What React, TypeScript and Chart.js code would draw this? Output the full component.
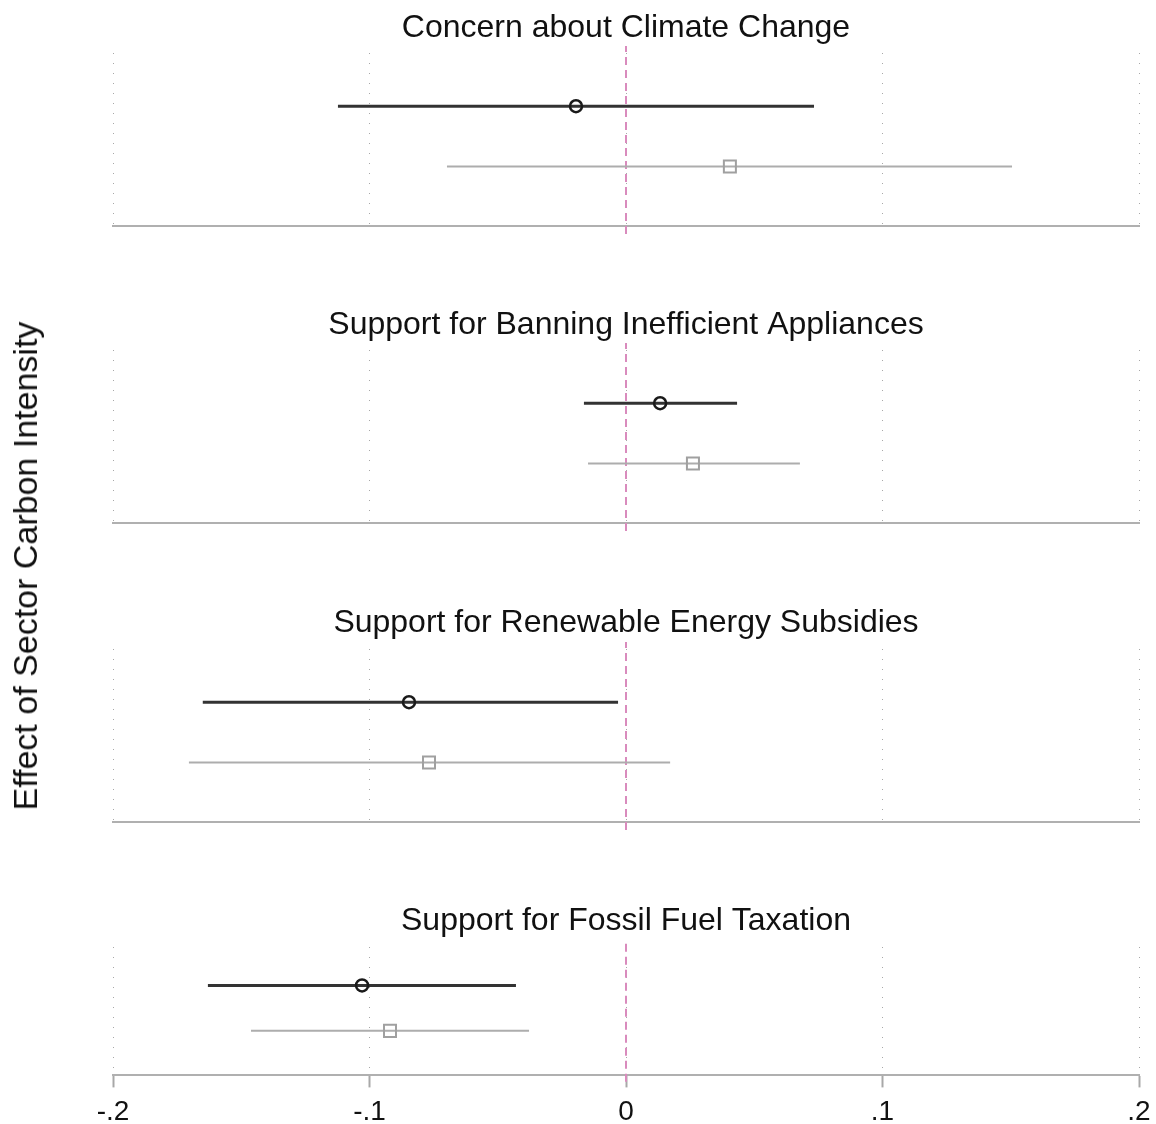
import React, { useEffect, useRef } from 'react';
import { Chart, registerables } from 'chart.js';

Chart.register(...registerables);

// ---------- data ----------
const panelTitles = [
  'Concern about Climate Change',
  'Support for Banning Inefficient Appliances',
  'Support for Renewable Energy Subsidies',
  'Support for Fossil Fuel Taxation',
];
const darkEst = [-0.0195, 0.0133, -0.0846, -0.1029];
const darkLo = [-0.1123, -0.0164, -0.1650, -0.1630];
const darkHi = [0.0733, 0.0433, -0.0031, -0.0429];
const grayEst = [0.0405, 0.0261, -0.0768, -0.0920];
const grayLo = [-0.0698, -0.0148, -0.1704, -0.1462];
const grayHi = [0.1505, 0.0678, 0.0172, -0.0378];
const tickValues = [-0.2, -0.1, 0, 0.1, 0.2];
const tickLabels = ['-.2', '-.1', '0', '.1', '.2'];
const rowDark = 2;
const rowGray = 1;
const yMin = 0.02;
const yMax = 3;
const refX = 0;
const refYLow = -0.12;
const yAxisTitle = 'Effect of Sector Carbon Intensity';

// ---------- layout / style ----------
const FONT = "'Liberation Sans', Arial, sans-serif";
const W = 1156;
const H = 1124;
const CANVAS_W = 1176;
const PLOT_LEFT = 113;
const PLOT_RIGHT = 1139;
const panelBottoms = [226, 523, 822, 1075];
const panelHeights = [180, 180, 180, 135];
const titleCenters = [25, 322, 620, 918];
const TITLE_SIZE = 32;
const TICK_SIZE = 28;
const TICK_LEN = 12;
const TICK_PAD = 8;

function Panel({ idx }: { idx: number }) {
  const ref = useRef<HTMLCanvasElement>(null);
  const isLast = idx === panelTitles.length - 1;
  const areaBottom = panelBottoms[idx];
  const areaTop = areaBottom - panelHeights[idx];
  const titleLH = TITLE_SIZE * 1.0;
  const top = Math.round(titleCenters[idx] + 3 - titleLH / 2);
  const titlePadBottom = Math.max(0, areaTop - top - titleLH);
  let height: number;
  let padBottom: number;
  if (isLast) {
    const axisH = TICK_LEN + TICK_SIZE * 1.2 + TICK_PAD;
    height = Math.round(areaBottom + axisH + 8 - top);
    padBottom = 0;
  } else {
    padBottom = 10;
    height = areaBottom + padBottom - top;
  }

  useEffect(() => {
    const canvas = ref.current;
    if (!canvas) return;
    const chart = new Chart(canvas, {
      type: 'line',
      data: {
        datasets: [
          {
            type: 'scatter',
            data: [{ x: darkEst[idx], y: rowDark }],
            pointStyle: 'circle',
            pointRadius: 6,
            pointBorderWidth: 2.5,
            pointBorderColor: '#1a1a1a',
            pointBackgroundColor: 'rgba(0,0,0,0)',
            borderColor: '#1a1a1a',
            backgroundColor: 'rgba(0,0,0,0)',
            showLine: false,
          } as any,
          {
            type: 'scatter',
            data: [{ x: grayEst[idx], y: rowGray }],
            pointStyle: 'rect',
            pointRadius: 8.5,
            pointBorderWidth: 2,
            pointBorderColor: '#a0a0a0',
            pointBackgroundColor: 'rgba(0,0,0,0)',
            borderColor: '#a0a0a0',
            backgroundColor: 'rgba(0,0,0,0)',
            showLine: false,
          } as any,
          {
            type: 'line',
            data: [
              { x: darkLo[idx], y: rowDark },
              { x: darkHi[idx], y: rowDark },
            ],
            borderColor: '#333333',
            borderWidth: 3,
            pointRadius: 0,
            fill: false,
          },
          {
            type: 'line',
            data: [
              { x: grayLo[idx], y: rowGray },
              { x: grayHi[idx], y: rowGray },
            ],
            borderColor: '#adadad',
            borderWidth: 2,
            pointRadius: 0,
            fill: false,
          },
          {
            type: 'line',
            data: [
              { x: refX, y: refYLow },
              { x: refX, y: yMax },
            ],
            borderColor: '#d98bbd',
            borderWidth: 2,
            borderDash: [8, 5],
            pointRadius: 0,
            fill: false,
            clip: false,
          } as any,
        ],
      },
      options: {
        animation: false,
        responsive: false,
        devicePixelRatio: 1,
        events: [],
        layout: {
          padding: { left: PLOT_LEFT, right: CANVAS_W - PLOT_RIGHT, top: 0, bottom: padBottom },
        },
        plugins: {
          legend: { display: false },
          tooltip: { enabled: false },
          title: {
            display: true,
            text: panelTitles[idx],
            fullSize: false,
            color: '#111111',
            font: { family: FONT, size: TITLE_SIZE, weight: 'normal', lineHeight: 1.0 },
            padding: { top: 0, bottom: titlePadBottom },
          },
        },
        scales: {
          x: {
            type: 'linear',
            min: tickValues[0],
            max: tickValues[tickValues.length - 1],
            afterBuildTicks: (axis: any) => {
              axis.ticks = tickValues.map((v) => ({ value: v }));
            },
            grid: {
              display: true,
              color: '#a8a8a8',
              lineWidth: 1,
              drawOnChartArea: true,
              drawTicks: isLast,
              tickLength: TICK_LEN,
              tickColor: '#a8a8a8',
              tickWidth: 2,
              tickBorderDash: [],
            } as any,
            border: { display: true, color: '#b0b0b0', width: 2, dash: [1, 9], dashOffset: -7 },
            ticks: {
              display: isLast,
              autoSkip: false,
              maxRotation: 0,
              padding: TICK_PAD,
              color: '#111111',
              font: { family: FONT, size: TICK_SIZE },
              callback: (_v: any, i: number) => tickLabels[i],
            },
          },
          y: {
            type: 'linear',
            display: false,
            min: yMin,
            max: yMax,
          },
        },
      } as any,
    });
    return () => chart.destroy();
  }, [idx]);

  return (
    <canvas
      ref={ref}
      width={CANVAS_W}
      height={height}
      style={{ position: 'absolute', left: 0, top, width: CANVAS_W, height, display: 'block' }}
    />
  );
}

export default function App() {
  return (
    <div
      style={{
        position: 'absolute',
        left: 0,
        top: 0,
        width: W,
        height: H,
        background: '#ffffff',
        overflow: 'hidden',
      }}
    >
      {panelTitles.map((_, i) => (
        <Panel key={i} idx={i} />
      ))}
      <div
        style={{
          position: 'absolute',
          left: 25,
          top: 566,
          transform: 'translate(-50%, -50%) rotate(-90deg)',
          whiteSpace: 'nowrap',
          fontFamily: FONT,
          fontSize: 34,
          color: '#111111',
          lineHeight: 1,
        }}
      >
        {yAxisTitle}
      </div>
    </div>
  );
}
